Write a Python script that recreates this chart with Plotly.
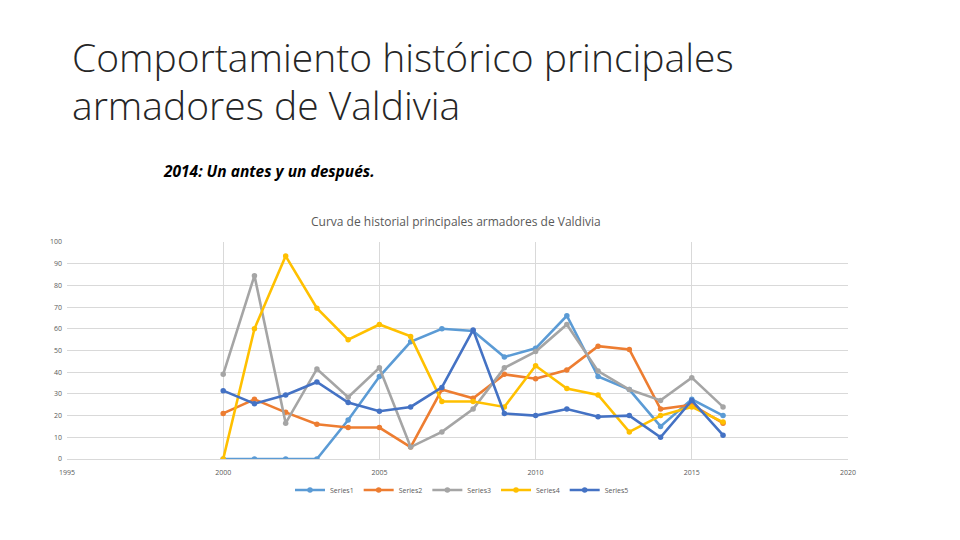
import plotly.graph_objects as go

years = list(range(2000, 2017))
series1 = [0, 0, 0, 0, 18, 38, 54, 60, 59, 47, 51, 66, 38, 32, 15, 27.5, 20]
series2 = [21, 27.5, 21.5, 16, 14.5, 14.5, 5.5, 32, 28, 39, 37, 41, 52, 50.5, 23, 25, 16.5]
series3 = [39, 84.5, 16.5, 41.5, 28.5, 42, 5.5, 12.5, 23, 42, 49.5, 62, 40.5, 32, 27, 37.5, 24]
series4 = [0, 60, 93.5, 69.5, 55, 62, 56.5, 26.5, 26.5, 24, 43, 32.5, 29.5, 12.5, 20, 24, 17]
series5 = [31.5, 25.5, 29.5, 35.5, 26, 22, 24, 33, 59.5, 21, 20, 23, 19.5, 20, 10, 27, 11]

names = ["Series1", "Series2", "Series3", "Series4", "Series5"]
colors = ["#5B9BD5", "#ED7D31", "#A5A5A5", "#FFC000", "#4472C4"]
data = [series1, series2, series3, series4, series5]

x_ticks = [1995, 2000, 2005, 2010, 2015, 2020]
y_ticks = list(range(0, 101, 10))

fig = go.Figure()
for n, c, d in zip(names, colors, data):
    fig.add_trace(go.Scatter(
        x=years, y=d, name=n, mode="lines+markers",
        line=dict(color=c, width=2.6),
        marker=dict(color=c, size=5.5, symbol="circle"),
    ))

OFF = 8  # page body margin
W, H = 952, 532
L, T = 67 - OFF, 242 - OFF
pw, ph = 848 - 67, 459 - 242
R, B = W - L - pw, H - T - ph

def px(xp):
    return (xp - OFF - L) / pw

def py(yp):
    return (T + ph - (yp - OFF)) / ph

fig.update_layout(
    width=W, height=H,
    margin=dict(l=L, r=R, t=T, b=B, autoexpand=False),
    paper_bgcolor="white", plot_bgcolor="white",
    font=dict(family="Open Sans, Liberation Sans, sans-serif", color="#595959"),
    showlegend=True,
    legend=dict(
        orientation="h", x=px(462), xanchor="center", y=py(490), yanchor="middle",
        font=dict(size=7, color="#595959"), itemwidth=30, tracegroupgap=0,
        bgcolor="rgba(0,0,0,0)",
    ),
    xaxis=dict(
        range=[1995, 2020], tickvals=x_ticks, ticktext=[str(v) for v in x_ticks],
        showgrid=True, gridcolor="#D9D9D9", gridwidth=1,
        showline=True, linecolor="#D9D9D9", mirror=False,
        zeroline=False, ticks="", tickfont=dict(size=7, color="#595959"),
        ticklabelstandoff=7,
    ),
    yaxis=dict(
        range=[0, 100], tickvals=y_ticks,
        showgrid=True, gridcolor="#D9D9D9", gridwidth=1,
        showline=False, zeroline=False, ticks="",
        tickfont=dict(size=7, color="#595959"),
        ticklabelstandoff=4,
    ),
    annotations=[
        dict(text="Comportamiento histórico principales", x=px(70), y=py(56),
             xref="paper", yref="paper", xanchor="left", yanchor="middle",
             showarrow=False,
             font=dict(size=39, color="#262626", family="Open Sans, sans-serif", weight=300)),
        dict(text="armadores de Valdivia", x=px(70), y=py(104),
             xref="paper", yref="paper", xanchor="left", yanchor="middle",
             showarrow=False,
             font=dict(size=39, color="#262626", family="Open Sans, sans-serif", weight=300)),
        dict(text="<b><i>2014: Un antes y un después.</i></b>", x=px(161), y=py(171),
             xref="paper", yref="paper", xanchor="left", yanchor="middle",
             showarrow=False, font=dict(size=15.5, color="#000000", family="Open Sans, sans-serif")),
        dict(text="Curva de historial principales armadores de Valdivia", x=px(456), y=py(221),
             xref="paper", yref="paper", xanchor="center", yanchor="middle",
             showarrow=False, font=dict(size=12, color="#595959")),
    ],
)

fig.write_html("out.html")
